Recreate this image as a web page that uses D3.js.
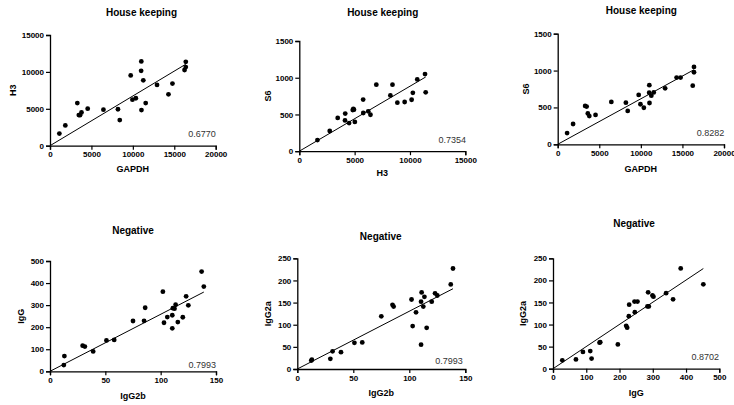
<!DOCTYPE html>
<html>
<head>
<meta charset="utf-8">
<script src="https://cdn.jsdelivr.net/npm/d3@7"></script>
<style>
    body { margin: 0; background: #fff; }
    svg { display: block; font-family: "Liberation Sans", Arial, sans-serif; }
</style>
</head>
<body>
<svg width="734" height="405"></svg>
<script>
// *** Data: house keeping genes (same 24 samples) ***
var gapdh = [1130, 1850, 3300, 3480, 3620, 3800, 4550, 6450, 8200, 8420, 9740, 9950,
             10360, 11000, 11020, 11040, 11260, 11550, 12920, 14300, 14780, 16240, 16390, 16390];
var h3 = [1640, 2750, 5780, 4150, 4130, 4500, 5020, 4880, 4940, 3470, 9520, 6230,
          6430, 10150, 11420, 4830, 8860, 5770, 8230, 6960, 8420, 10260, 11360, 10660];
var s6 = [152, 275, 520, 512, 419, 383, 399, 575, 565, 453, 670, 543,
          496, 700, 802, 560, 660, 703, 759, 905, 905, 795, 1050, 977];

// *** Data: negative controls (same 24 samples) ***
var igg2b = [12.5, 13, 29.5, 31.5, 39, 51, 58, 75, 85, 86, 102, 103,
             106, 110.5, 110.5, 111, 112.5, 113.5, 115.5, 120, 123, 125, 137, 139];
var igg = [28, 69, 116, 112, 90, 140, 142, 228, 229, 288, 361, 220,
           246, 195, 254, 286, 284, 302, 223, 245, 340, 299, 452, 384];
var igg2a = [19, 21, 23, 40, 38, 59, 60, 119, 145, 141, 157, 97,
             128, 55, 152, 173, 141, 163, 93, 152, 171, 166, 191, 227];

var titles = ["House keeping", "House keeping", "House keeping", "Negative", "Negative", "Negative"];
var r2Labels = ["0.6770", "0.7354", "0.8282", "0.7993", "0.7993", "0.8702"];
var xNames = ["GAPDH", "H3", "GAPDH", "IgG2b", "IgG2b", "IgG"];
var yNames = ["H3", "S6", "S6", "IgG", "IgG2a", "IgG2a"];
var xSeries = [gapdh, h3, gapdh, igg2b, igg2b, igg];
var ySeries = [h3, s6, s6, igg, igg2a, igg2a];
var xTicks = [[0, 5000, 10000, 15000, 20000], [0, 5000, 10000, 15000], [0, 5000, 10000, 15000, 20000],
              [0, 50, 100, 150], [0, 50, 100, 150], [0, 100, 200, 300, 400, 500]];
var yTicks = [[0, 5000, 10000, 15000], [0, 500, 1000, 1500], [0, 500, 1000, 1500],
              [0, 100, 200, 300, 400, 500], [0, 50, 100, 150, 200, 250], [0, 50, 100, 150, 200, 250]];

// *** Layout of each panel (pixels) ***
var layout = [
    { l: 50,    r: 215.7, b: 145.7, t: 35,    tx: 141.5, ty: 12.5,  xly: 169.3, ylx: 13,    rx: 215.7, ry: 134 },
    { l: 299.3, r: 465.3, b: 151.2, t: 41,    tx: 382.7, ty: 12.7,  xly: 173.3, ylx: 268,   rx: 466,   ry: 140 },
    { l: 557.7, r: 724,   b: 144.3, t: 33.7,  tx: 641.3, ty: 10,    xly: 169.3, ylx: 526,   rx: 724.3, ry: 132.7 },
    { l: 50,    r: 216,   b: 371.3, t: 261,   tx: 133,   ty: 230,   xly: 395.7, ylx: 21,    rx: 216,   ry: 365 },
    { l: 297.3, r: 465.3, b: 369,   t: 258.3, tx: 380.7, ty: 236.7, xly: 392.7, ylx: 268,   rx: 462.7, ry: 360.7 },
    { l: 553,   r: 719.3, b: 368.7, t: 258.3, tx: 634,   ty: 223,   xly: 393.3, ylx: 522.7, rx: 719,   ry: 356.7 }
];

var svg = d3.select("svg");

layout.forEach(function (p, i) {
    var xs = xSeries[i], ys = ySeries[i];
    var xt = xTicks[i], yt = yTicks[i];

    var x = d3.scaleLinear().domain([0, xt[xt.length - 1]]).range([p.l, p.r]);
    var y = d3.scaleLinear().domain([0, yt[yt.length - 1]]).range([p.b, p.t]);

    var g = svg.append("g");

    // *** Axes ***
    var xAxis = g.append("g")
        .attr("transform", "translate(0," + p.b + ")")
        .call(d3.axisBottom(x).tickValues(xt).tickFormat(d3.format("d")).tickSize(4).tickPadding(2));
    var yAxis = g.append("g")
        .attr("transform", "translate(" + p.l + ",0)")
        .call(d3.axisLeft(y).tickValues(yt).tickFormat(d3.format("d")).tickSize(4).tickPadding(2));

    [xAxis, yAxis].forEach(function (a) {
        a.select(".domain").attr("stroke", "#000").attr("stroke-width", 1.3);
        a.selectAll(".tick line").attr("stroke", "#000").attr("stroke-width", 1.2);
        a.selectAll("text")
            .attr("fill", "#000")
            .style("font-size", "8px")
            .style("font-weight", "bold");
    });

    // *** Regression through the origin ***
    var sxy = d3.sum(xs, function (d, k) { return d * ys[k]; });
    var sxx = d3.sum(xs, function (d) { return d * d; });
    var slope = sxy / sxx;
    var xMax = d3.max(xs);

    g.append("line")
        .attr("x1", x(0)).attr("y1", y(0))
        .attr("x2", x(xMax)).attr("y2", y(slope * xMax))
        .attr("stroke", "#000")
        .attr("stroke-width", 1);

    // *** Points ***
    g.selectAll("circle")
        .data(xs)
        .enter()
        .append("circle")
        .attr("cx", function (d) { return x(d); })
        .attr("cy", function (d, k) { return y(ys[k]); })
        .attr("r", 2.4)
        .attr("fill", "#000");

    // *** Texts ***
    g.append("text")
        .attr("x", p.tx).attr("y", p.ty).attr("dy", "0.35em")
        .attr("text-anchor", "middle")
        .style("font-size", "10px").style("font-weight", "bold")
        .text(titles[i]);

    g.append("text")
        .attr("x", (p.l + p.r) / 2).attr("y", p.xly).attr("dy", "0.35em")
        .attr("text-anchor", "middle")
        .style("font-size", "9px").style("font-weight", "bold")
        .text(xNames[i]);

    g.append("text")
        .attr("transform", "translate(" + p.ylx + "," + ((p.t + p.b) / 2) + ") rotate(-90)")
        .attr("dy", "0.35em")
        .attr("text-anchor", "middle")
        .style("font-size", "9px").style("font-weight", "bold")
        .text(yNames[i]);

    g.append("text")
        .attr("x", p.rx).attr("y", p.ry).attr("dy", "0.35em")
        .attr("text-anchor", "end")
        .attr("fill", "#333")
        .style("font-size", "9px")
        .text(r2Labels[i]);
});
</script>
</body>
</html>
